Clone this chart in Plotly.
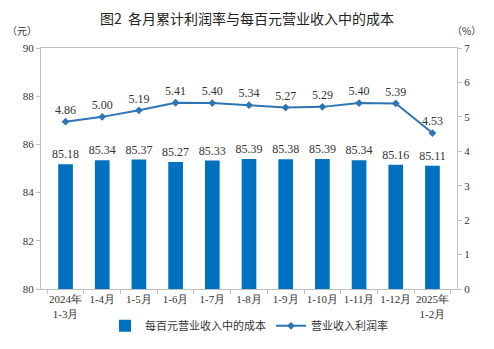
import plotly.graph_objects as go

categories = ["2024年<br>1-3月", "1-4月", "1-5月", "1-6月", "1-7月", "1-8月",
              "1-9月", "1-10月", "1-11月", "1-12月", "2025年<br>1-2月"]
cost_per_100 = [85.18, 85.34, 85.37, 85.27, 85.33, 85.39, 85.38, 85.39, 85.34, 85.16, 85.11]
profit_rate = [4.86, 5.00, 5.19, 5.41, 5.40, 5.34, 5.27, 5.29, 5.40, 5.39, 4.53]

serif = "Liberation Serif"
axis_color = "#bfbfbf"
txt = "#333333"

fig = go.Figure()
fig.add_trace(go.Bar(
    x=categories, y=cost_per_100, name="每百元营业收入中的成本",
    marker=dict(color="#0070c0", line=dict(width=0)),
    width=0.4,
    text=[f"{v:.2f}" for v in cost_per_100], textposition="outside",
    constraintext="none",
    textfont=dict(family=serif, size=12, color=txt),
    cliponaxis=False,
))
fig.add_trace(go.Scatter(
    x=categories, y=profit_rate, name="营业收入利润率", yaxis="y2",
    mode="lines+markers+text",
    line=dict(color="#2e75b6", width=2),
    marker=dict(symbol="diamond", size=6, color="#2e75b6"),
    text=[f"{v:.2f}" for v in profit_rate], textposition="top center",
    textfont=dict(family=serif, size=12, color=txt),
    cliponaxis=False,
))

fig.update_layout(
    width=494, height=349,
    margin=dict(l=41, r=37, t=48, b=60, autoexpand=False),
    paper_bgcolor="white", plot_bgcolor="white",
    title=dict(text="图2  各月累计利润率与每百元营业收入中的成本",
               x=0.5, xanchor="center", y=0.945, yanchor="middle",
               font=dict(family="Noto Sans CJK SC", size=14, color="#222222")),
    font=dict(family=serif, size=11, color=txt),
    showlegend=True,
    legend=dict(orientation="h", x=0.5, xanchor="center", y=-0.153, yanchor="middle",
                font=dict(family="Noto Sans CJK SC", size=11, color=txt),
                itemwidth=30, tracegroupgap=0),
    xaxis=dict(showline=True, linecolor=axis_color, mirror=True, ticks="outside",
               tickcolor=axis_color, ticklen=4, tickson="boundaries", tickangle=0,
               tickfont=dict(family=serif, size=11, color=txt),
               showgrid=False),
    yaxis=dict(range=[80, 90], dtick=2, showline=True, linecolor=axis_color,
               mirror=True,
               ticks="outside", tickcolor=axis_color, ticklen=4, showgrid=False,
               zeroline=False, tickfont=dict(family=serif, size=11, color=txt)),
    yaxis2=dict(range=[0, 7], dtick=1, overlaying="y", side="right", showline=True,
                linecolor=axis_color, ticks="outside", tickcolor=axis_color, ticklen=4,
                showgrid=False, zeroline=False,
                tickfont=dict(family=serif, size=11, color=txt)),
    annotations=[
        dict(text="（元）", xref="paper", yref="paper", x=-0.046, y=1.035,
             xanchor="center", yanchor="bottom", showarrow=False,
             font=dict(family="Noto Sans CJK SC", size=10, color=txt)),
        dict(text="（%）", xref="paper", yref="paper", x=1.022, y=1.035,
             xanchor="center", yanchor="bottom", showarrow=False,
             font=dict(family="Noto Sans CJK SC", size=10, color=txt)),
    ],
)

fig.write_html("out.html")
